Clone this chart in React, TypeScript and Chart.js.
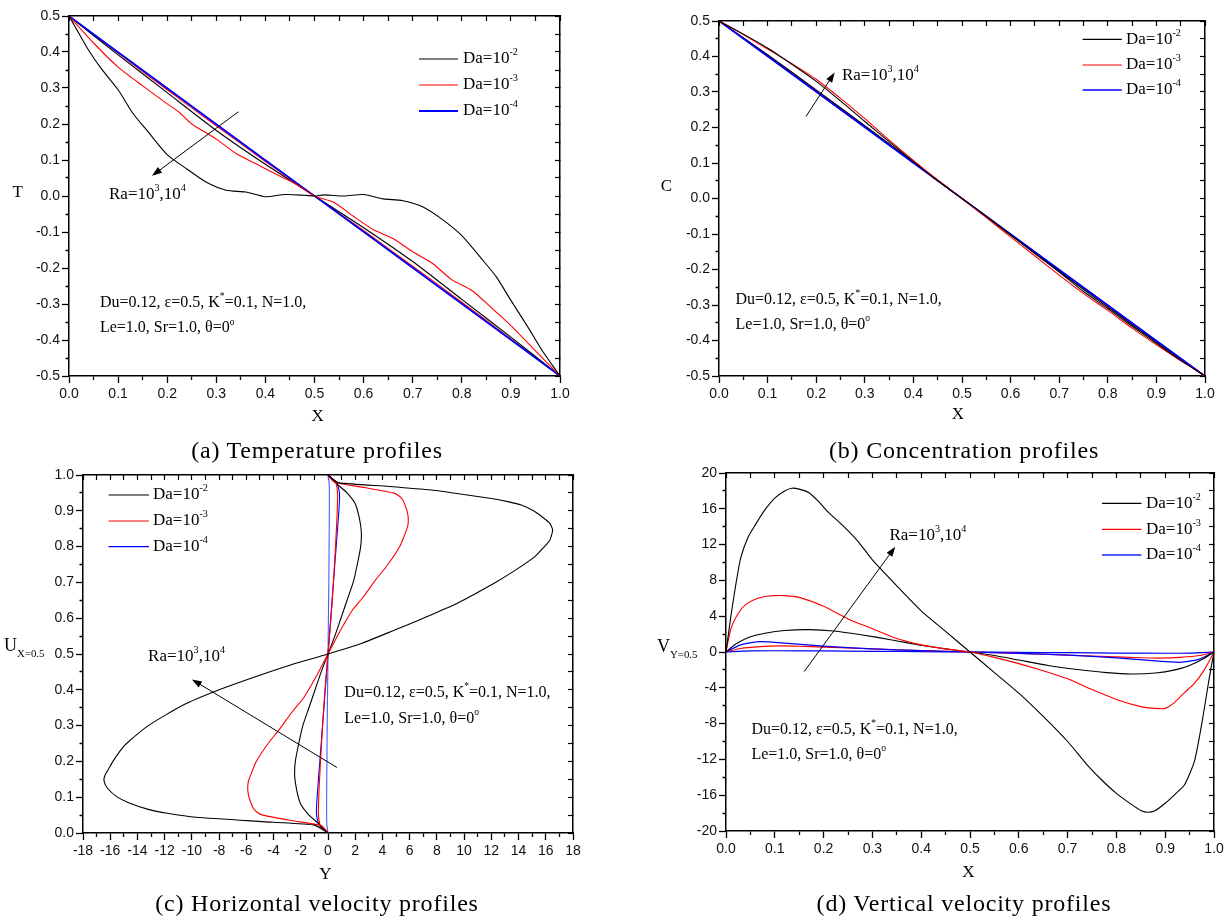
import React, { useEffect, useRef } from 'react';
import { Chart, registerables } from 'chart.js';

Chart.register(...registerables);

const SERIF = '"Liberation Serif", "Times New Roman", serif';
const SANS = '"Liberation Sans", Arial, sans-serif';

// ---------------- (a) Temperature profiles: T vs X ----------------
const A_X_D2_R4 = [0, 0.02, 0.04, 0.065, 0.1, 0.13, 0.16, 0.2, 0.24, 0.28, 0.32, 0.36, 0.4, 0.44, 0.48, 0.5, 0.52, 0.56, 0.6, 0.64, 0.68, 0.72, 0.76, 0.8, 0.84, 0.87, 0.9, 0.935, 0.965, 1.0];
const A_T_D2_R4 = [0.5, 0.452, 0.405, 0.355, 0.295, 0.23, 0.18, 0.115, 0.075, 0.038, 0.016, 0.011, -0.002, 0.004, 0.002, 0, 0.003, 0.0, 0.004, -0.008, -0.013, -0.03, -0.065, -0.11, -0.174, -0.224, -0.29, -0.365, -0.432, -0.5];
const A_X_D3_R4 = [0, 0.05, 0.1, 0.15, 0.2, 0.225, 0.25, 0.3, 0.34, 0.38, 0.42, 0.46, 0.5, 0.54, 0.58, 0.62, 0.66, 0.7, 0.74, 0.78, 0.82, 0.86, 0.9, 0.95, 1.0];
const A_T_D3_R4 = [0.5, 0.425, 0.358, 0.306, 0.256, 0.232, 0.2, 0.158, 0.118, 0.09, 0.062, 0.035, 0, -0.018, -0.057, -0.094, -0.118, -0.155, -0.187, -0.233, -0.262, -0.31, -0.36, -0.43, -0.5];
const A_X_LIN = [0, 0.1, 0.2, 0.3, 0.4, 0.5, 0.6, 0.7, 0.8, 0.9, 1.0];
const A_T_D2_R3 = [0.5, 0.392, 0.287, 0.182, 0.088, 0, -0.088, -0.182, -0.287, -0.392, -0.5];
const A_T_D3_R3 = [0.5, 0.397, 0.295, 0.195, 0.096, 0, -0.096, -0.195, -0.295, -0.397, -0.5];
const A_T_D4_R4 = [0.5, 0.399, 0.299, 0.199, 0.099, 0, -0.099, -0.199, -0.299, -0.399, -0.5];
const A_T_D4_R3 = [0.5, 0.4, 0.3, 0.2, 0.1, 0, -0.1, -0.2, -0.3, -0.4, -0.5];

// ---------------- (b) Concentration profiles: C vs X ----------------
const B_X = [0, 0.05, 0.1, 0.15, 0.2, 0.25, 0.3, 0.35, 0.4, 0.45, 0.5, 0.55, 0.6, 0.65, 0.7, 0.75, 0.8, 0.85, 0.9, 0.95, 1.0];
const B_C_D2_R4 = [0.5, 0.463, 0.424, 0.378, 0.33, 0.275, 0.217, 0.16, 0.104, 0.05, 0, -0.05, -0.102, -0.155, -0.207, -0.262, -0.31, -0.36, -0.408, -0.456, -0.5];
const B_C_D3_R4 = [0.5, 0.462, 0.421, 0.38, 0.336, 0.282, 0.225, 0.165, 0.107, 0.052, 0, -0.054, -0.108, -0.162, -0.216, -0.268, -0.315, -0.365, -0.412, -0.457, -0.5];
const B_X_LIN = [0, 0.1, 0.2, 0.3, 0.4, 0.5, 0.6, 0.7, 0.8, 0.9, 1.0];
const B_C_D2_R3 = [0.5, 0.405, 0.306, 0.205, 0.103, 0, -0.103, -0.205, -0.306, -0.405, -0.5];
const B_C_D3_R3 = [0.5, 0.403, 0.304, 0.203, 0.102, 0, -0.102, -0.203, -0.304, -0.403, -0.5];
const B_C_D4_R4 = [0.5, 0.401, 0.301, 0.201, 0.1, 0, -0.1, -0.201, -0.301, -0.401, -0.5];
const B_C_D4_R3 = [0.5, 0.4, 0.3, 0.2, 0.1, 0, -0.1, -0.2, -0.3, -0.4, -0.5];

// ---------------- (c) Horizontal velocity profiles: position vs U ----------------
const C_P_D2_R4 = [0, 0.01, 0.022, 0.03, 0.044, 0.055, 0.066, 0.084, 0.101, 0.125, 0.145, 0.16, 0.18, 0.2, 0.228, 0.25, 0.3, 0.358, 0.4, 0.433, 0.47, 0.5, 0.53, 0.567, 0.6, 0.642, 0.7, 0.735, 0.772, 0.8, 0.818, 0.846, 0.865, 0.884, 0.9, 0.916, 0.925, 0.935, 0.945, 0.958, 0.968, 0.978, 0.99, 1.0];
const C_U_D2_R4 = [0, -0.4, -1.0, -4.0, -9.7, -11.8, -13.2, -14.6, -15.5, -16.2, -16.45, -16.4, -16.1, -15.8, -15.3, -14.8, -13.2, -10.6, -8.0, -5.6, -2.7, 0, 2.5, 4.9, 7.0, 9.5, 12.3, 13.8, 15.2, 15.9, 16.3, 16.5, 16.3, 15.7, 15.1, 14.2, 13.3, 11.9, 10.1, 7.6, 4.5, 0.8, 0.3, 0];
const C_P_D2_R3 = [0, 0.01, 0.03, 0.05, 0.08, 0.12, 0.16, 0.2, 0.25, 0.3, 0.35, 0.4, 0.45, 0.5, 0.55, 0.6, 0.65, 0.7, 0.75, 0.8, 0.84, 0.88, 0.92, 0.95, 0.97, 0.99, 1];
const C_U_D2_R3 = [0, -0.3, -0.8, -1.4, -2.0, -2.3, -2.45, -2.4, -2.15, -1.85, -1.4, -0.95, -0.5, 0, 0.5, 0.95, 1.4, 1.85, 2.15, 2.4, 2.45, 2.3, 2.0, 1.4, 0.8, 0.3, 0];
const C_P_D3_R4 = [0, 0.01, 0.021, 0.035, 0.05, 0.058, 0.07, 0.088, 0.107, 0.126, 0.144, 0.17, 0.2, 0.25, 0.293, 0.34, 0.377, 0.415, 0.452, 0.5, 0.548, 0.585, 0.623, 0.66, 0.707, 0.75, 0.8, 0.83, 0.856, 0.874, 0.893, 0.912, 0.93, 0.942, 0.95, 0.965, 0.979, 0.99, 1];
const C_U_D3_R4 = [0, -0.2, -0.5, -2.7, -4.8, -5.2, -5.5, -5.7, -5.85, -5.9, -5.85, -5.6, -5.27, -4.4, -3.5, -2.6, -1.8, -1.2, -0.66, 0, 0.66, 1.2, 1.8, 2.6, 3.5, 4.4, 5.27, 5.6, 5.85, 5.9, 5.85, 5.7, 5.5, 5.2, 4.8, 2.7, 0.5, 0.2, 0];
const C_P_D3_R3 = [0, 0.02, 0.05, 0.1, 0.15, 0.2, 0.3, 0.4, 0.5, 0.6, 0.7, 0.8, 0.85, 0.9, 0.95, 0.98, 1];
const C_U_D3_R3 = [0, -0.55, -0.7, -0.68, -0.62, -0.55, -0.4, -0.22, 0, 0.22, 0.4, 0.55, 0.62, 0.68, 0.7, 0.55, 0];
const C_P_D4 = [0, 0.02, 0.04, 0.06, 0.1, 0.2, 0.3, 0.4, 0.5, 0.6, 0.7, 0.8, 0.9, 0.94, 0.96, 0.98, 1];
const C_U_D4_R4 = [0, -0.6, -0.8, -0.85, -0.8, -0.6, -0.4, -0.2, 0, 0.2, 0.4, 0.6, 0.8, 0.85, 0.8, 0.6, 0];
const C_U_D4_R3 = [0, -0.08, -0.1, -0.1, -0.1, -0.08, -0.06, -0.03, 0, 0.03, 0.06, 0.08, 0.1, 0.1, 0.1, 0.08, 0];

// ---------------- (d) Vertical velocity profiles: V vs X ----------------
const D_X_D2_R4 = [0, 0.01, 0.02, 0.03, 0.045, 0.06, 0.08, 0.1, 0.12, 0.135, 0.15, 0.17, 0.19, 0.21, 0.24, 0.27, 0.3, 0.35, 0.4, 0.45, 0.5, 0.55, 0.6, 0.65, 0.7, 0.74, 0.77, 0.8, 0.83, 0.85, 0.865, 0.88, 0.9, 0.92, 0.94, 0.96, 0.975, 0.99, 1.0];
const D_V_D2_R4 = [0, 4.0, 7.5, 10.5, 12.8, 14.2, 15.9, 17.2, 18.0, 18.3, 18.2, 17.8, 16.8, 15.6, 14.1, 12.4, 10.3, 7.4, 4.6, 2.3, 0, -2.3, -4.6, -7.2, -10.0, -12.6, -14.3, -15.8, -17.0, -17.7, -17.9, -17.7, -16.9, -15.9, -14.8, -12.2, -8.0, -3.0, 0];
const D_X_D3_R4 = [0, 0.01, 0.025, 0.04, 0.06, 0.08, 0.1, 0.12, 0.15, 0.2, 0.25, 0.3, 0.35, 0.4, 0.45, 0.5, 0.55, 0.6, 0.65, 0.7, 0.75, 0.8, 0.85, 0.88, 0.9, 0.92, 0.94, 0.96, 0.98, 1.0];
const D_V_D3_R4 = [0, 2.6, 4.3, 5.3, 5.9, 6.2, 6.3, 6.3, 6.1, 5.1, 3.7, 2.6, 1.5, 0.8, 0.35, 0, -0.6, -1.3, -2.1, -3.0, -4.2, -5.3, -6.1, -6.3, -6.3, -5.6, -4.5, -3.5, -2.0, 0];
const D_X_D2_R3 = [0, 0.02, 0.05, 0.08, 0.12, 0.17, 0.22, 0.28, 0.34, 0.4, 0.45, 0.5, 0.55, 0.6, 0.66, 0.72, 0.78, 0.83, 0.88, 0.92, 0.95, 0.98, 1.0];
const D_V_D2_R3 = [0, 0.9, 1.7, 2.1, 2.4, 2.5, 2.35, 1.9, 1.35, 0.75, 0.35, 0, -0.4, -0.9, -1.5, -1.95, -2.3, -2.45, -2.35, -2.0, -1.5, -0.7, 0];
const D_X_D4_R4 = [0, 0.03, 0.07, 0.12, 0.2, 0.3, 0.4, 0.5, 0.6, 0.7, 0.8, 0.88, 0.93, 0.97, 1.0];
const D_V_D4_R4 = [0, 0.8, 1.15, 1.0, 0.65, 0.35, 0.15, 0, -0.15, -0.35, -0.65, -1.0, -1.15, -0.8, 0];
const D_X_D3_R3 = [0, 0.03, 0.07, 0.11, 0.15, 0.2, 0.3, 0.4, 0.5, 0.6, 0.7, 0.8, 0.85, 0.89, 0.93, 0.97, 1];
const D_V_D3_R3 = [0, 0.4, 0.6, 0.68, 0.65, 0.55, 0.35, 0.15, 0, -0.15, -0.35, -0.55, -0.65, -0.68, -0.6, -0.4, 0];
const D_X_D4_R3 = [0, 0.05, 0.1, 0.2, 0.3, 0.4, 0.5, 0.6, 0.7, 0.8, 0.9, 0.95, 1];
const D_V_D4_R3 = [0, 0.12, 0.14, 0.12, 0.08, 0.04, 0, -0.04, -0.08, -0.12, -0.14, -0.12, 0];

// ---------------- labels ----------------
const LEGEND_POWERS = ['-2', '-3', '-4'];
const CAPTIONS = ['(a) Temperature profiles', '(b) Concentration profiles', '(c) Horizontal velocity profiles', '(d) Vertical velocity profiles'];

const BLACK = '#000000';
const RED = '#ff0000';
const BLUE = '#0000ff';
const LIGHTBLUE = '#4a5cff';

type Seg = { t: string; sup?: boolean; sub?: boolean };
const daSegs = (p: string): Seg[] => [{ t: 'Da=10' }, { t: p, sup: true }];
const RA_SEGS: Seg[] = [{ t: 'Ra=10' }, { t: '3', sup: true }, { t: ',10' }, { t: '4', sup: true }];
const PARAM1: Seg[] = [{ t: 'Du=0.12, \u03b5=0.5, K' }, { t: '*', sup: true }, { t: '=0.1, N=1.0,' }];
const PARAM2: Seg[] = [{ t: 'Le=1.0, Sr=1.0, \u03b8=0' }, { t: 'o', sup: true }];

const pts = (xs: number[], ys: number[]) => xs.map((x, i) => ({ x, y: ys[i] }));

function drawRich(ctx: CanvasRenderingContext2D, x: number, y: number, segs: Seg[], size: number, align: string) {
  const small = size * 0.6;
  let w = 0;
  segs.forEach((s) => {
    ctx.font = `${s.sup || s.sub ? small : size}px ${SERIF}`;
    w += ctx.measureText(s.t).width;
  });
  let cx = align === 'center' ? x - w / 2 : x;
  ctx.textBaseline = 'middle';
  ctx.textAlign = 'left';
  ctx.fillStyle = '#000';
  segs.forEach((s) => {
    const sz = s.sup || s.sub ? small : size;
    ctx.font = `${sz}px ${SERIF}`;
    const dy = s.sup ? -size * 0.38 : s.sub ? size * 0.45 : 0;
    ctx.fillText(s.t, cx, y + dy);
    cx += ctx.measureText(s.t).width;
  });
}

function drawArrow(ctx: CanvasRenderingContext2D, x1: number, y1: number, x2: number, y2: number) {
  const ang = Math.atan2(y2 - y1, x2 - x1);
  const len = 10, hw = 3.5;
  ctx.strokeStyle = '#000';
  ctx.fillStyle = '#000';
  ctx.lineWidth = 1;
  ctx.beginPath();
  ctx.moveTo(x1, y1);
  ctx.lineTo(x2 - Math.cos(ang) * len * 0.8, y2 - Math.sin(ang) * len * 0.8);
  ctx.stroke();
  ctx.beginPath();
  ctx.moveTo(x2, y2);
  ctx.lineTo(x2 - Math.cos(ang) * len - Math.sin(ang) * hw, y2 - Math.sin(ang) * len + Math.cos(ang) * hw);
  ctx.lineTo(x2 - Math.cos(ang) * len + Math.sin(ang) * hw, y2 - Math.sin(ang) * len - Math.cos(ang) * hw);
  ctx.closePath();
  ctx.fill();
}

type PanelCfg = any;

const fmt1 = (v: number) => (Math.round(v * 1000) / 1000).toFixed(1);
const fmtInt = (v: number) => String(Math.round(v));

const PANELS: PanelCfg[] = [
  {
    box: { x: 0, y: 0, w: 614, h: 460 },
    area: { l: 69, t: 16, r: 560, b: 376 },
    x: { min: 0, max: 1, minor: 0.05, major: 0.1, fmt: fmt1 },
    y: { min: -0.5, max: 0.5, minor: 0.05, major: 0.1, fmt: fmt1 },
    datasets: [
      { data: pts(A_X_D2_R4, A_T_D2_R4), color: BLACK, width: 1.1, tension: 0.25 },
      { data: pts(A_X_D3_R4, A_T_D3_R4), color: RED, width: 1.1, tension: 0.2 },
      { data: pts(A_X_LIN, A_T_D4_R4), color: BLUE, width: 1.4, tension: 0 },
      { data: pts(A_X_LIN, A_T_D4_R3), color: BLUE, width: 1.4, tension: 0 },
      { data: pts(A_X_LIN, A_T_D2_R3), color: BLACK, width: 1.1, tension: 0.2 },
      { data: pts(A_X_LIN, A_T_D3_R3), color: RED, width: 1.1, tension: 0.2 },
    ],
    legend: { x1: 419, x2: 458, tx: 463, ys: [59, 85, 111], items: [{ color: BLACK, width: 1.2 }, { color: RED, width: 1.2 }, { color: BLUE, width: 2 }] },
    titles: [
      { x: 17.6, y: 193, segs: [{ t: 'T' }], align: 'center', size: 17 },
      { x: 317.6, y: 416.3, segs: [{ t: 'X' }], align: 'center', size: 17 },
    ],
    notes: [
      { x: 0.0815, y: 0.003, segs: RA_SEGS, size: 17 },
      { x: 0.063, y: -0.297, segs: PARAM1, size: 16 },
      { x: 0.063, y: -0.367, segs: PARAM2, size: 16 },
    ],
    arrows: [{ from: [0.345, 0.234], to: [0.169, 0.056] }],
  },
  {
    box: { x: 614, y: 0, w: 614, h: 460 },
    area: { l: 719, t: 21, r: 1205, b: 376 },
    x: { min: 0, max: 1, minor: 0.05, major: 0.1, fmt: fmt1 },
    y: { min: -0.5, max: 0.5, minor: 0.05, major: 0.1, fmt: fmt1 },
    datasets: [
      { data: pts(B_X, B_C_D2_R4), color: BLACK, width: 1.1, tension: 0.2 },
      { data: pts(B_X, B_C_D3_R4), color: RED, width: 1.1, tension: 0.2 },
      { data: pts(B_X_LIN, B_C_D4_R4), color: BLUE, width: 1.4, tension: 0 },
      { data: pts(B_X_LIN, B_C_D4_R3), color: BLUE, width: 1.4, tension: 0 },
      { data: pts(B_X_LIN, B_C_D2_R3), color: BLACK, width: 1.1, tension: 0.2 },
      { data: pts(B_X_LIN, B_C_D3_R3), color: RED, width: 1.1, tension: 0.2 },
    ],
    legend: { x1: 468.6, x2: 507.8, tx: 512, ys: [39.3, 65, 90], items: [{ color: BLACK, width: 1.2 }, { color: RED, width: 1.2 }, { color: BLUE, width: 1.4 }] },
    titles: [
      { x: 52.5, y: 187, segs: [{ t: 'C' }], align: 'center', size: 17 },
      { x: 344, y: 414.5, segs: [{ t: 'X' }], align: 'center', size: 17 },
    ],
    notes: [
      { x: 0.253, y: 0.345, segs: RA_SEGS, size: 17 },
      { x: 0.034, y: -0.286, segs: PARAM1, size: 16 },
      { x: 0.034, y: -0.356, segs: PARAM2, size: 16 },
    ],
    arrows: [{ from: [0.179, 0.231], to: [0.238, 0.355] }],
  },
  {
    box: { x: 0, y: 460, w: 614, h: 461 },
    area: { l: 83, t: 475, r: 573, b: 833 },
    x: { min: -18, max: 18, minor: 1, major: 2, fmt: fmtInt },
    y: { min: 0, max: 1, minor: 0.05, major: 0.1, fmt: fmt1 },
    datasets: [
      { data: pts(C_U_D2_R4, C_P_D2_R4), color: BLACK, width: 1.1, tension: 0.2 },
      { data: pts(C_U_D3_R4, C_P_D3_R4), color: RED, width: 1.1, tension: 0.2 },
      { data: pts(C_U_D2_R3, C_P_D2_R3), color: BLACK, width: 1.1, tension: 0.2 },
      { data: pts(C_U_D3_R3, C_P_D3_R3), color: RED, width: 1.1, tension: 0.2 },
      { data: pts(C_U_D4_R4, C_P_D4), color: BLUE, width: 1.1, tension: 0.2 },
      { data: pts(C_U_D4_R3, C_P_D4), color: LIGHTBLUE, width: 1.1, tension: 0.2 },
    ],
    legend: { x1: 108.6, x2: 149, tx: 153, ys: [35, 61, 86.7], items: [{ color: BLACK, width: 1.2 }, { color: RED, width: 1.2 }, { color: BLUE, width: 1.2 }] },
    titles: [
      { x: 4, y: 186, segs: [{ t: 'U' }, { t: 'X=0.5', sub: true }], align: 'left', size: 18 },
      { x: 325.5, y: 415, segs: [{ t: 'Y' }], align: 'center', size: 17 },
    ],
    notes: [
      { x: -13.22, y: 0.492, segs: RA_SEGS, size: 17 },
      { x: 1.2, y: 0.393, segs: PARAM1, size: 16 },
      { x: 1.2, y: 0.32, segs: PARAM2, size: 16 },
    ],
    arrows: [{ from: [0.66, 0.183], to: [-10.0, 0.429] }],
  },
  {
    box: { x: 614, y: 460, w: 614, h: 461 },
    area: { l: 726, t: 473, r: 1214, b: 831 },
    x: { min: 0, max: 1, minor: 0.05, major: 0.1, fmt: fmt1 },
    y: { min: -20, max: 20, minor: 2, major: 4, fmt: fmtInt },
    datasets: [
      { data: pts(D_X_D2_R4, D_V_D2_R4), color: BLACK, width: 1.1, tension: 0.2 },
      { data: pts(D_X_D3_R4, D_V_D3_R4), color: RED, width: 1.1, tension: 0.2 },
      { data: pts(D_X_D2_R3, D_V_D2_R3), color: BLACK, width: 1.1, tension: 0.2 },
      { data: pts(D_X_D4_R4, D_V_D4_R4), color: BLUE, width: 1.2, tension: 0.2 },
      { data: pts(D_X_D3_R3, D_V_D3_R3), color: RED, width: 1.1, tension: 0.2 },
      { data: pts(D_X_D4_R3, D_V_D4_R3), color: BLUE, width: 1.2, tension: 0.2 },
    ],
    legend: { x1: 488, x2: 527.5, tx: 532, ys: [43.3, 69.3, 95], items: [{ color: BLACK, width: 1.2 }, { color: RED, width: 1.2 }, { color: LIGHTBLUE, width: 2 }] },
    titles: [
      { x: 43, y: 187.5, segs: [{ t: 'V' }, { t: 'Y=0.5', sub: true }], align: 'left', size: 18 },
      { x: 354.5, y: 413, segs: [{ t: 'X' }], align: 'center', size: 17 },
    ],
    notes: [
      { x: 0.335, y: 12.96, segs: RA_SEGS, size: 17 },
      { x: 0.052, y: -8.64, segs: PARAM1, size: 16 },
      { x: 0.052, y: -11.5, segs: PARAM2, size: 16 },
    ],
    arrows: [{ from: [0.16, -2.2], to: [0.347, 11.77] }],
  },
];

const isMul = (v: number, step: number) => Math.abs(v / step - Math.round(v / step)) < 1e-6;

function buildConfig(cfg: PanelCfg): any {
  const { box, area } = cfg;
  const leftW = area.l - box.x;
  const topH = area.t - box.y;
  const rightW = box.x + box.w - area.r;
  const bottomH = box.y + box.h - area.b;
  const tickFont = { family: SANS, size: 14 };
  const border = { display: true, color: '#000', width: 1.5 };

  const textPlugin = {
    id: 'panelText',
    afterDraw(chart: any) {
      const ctx: CanvasRenderingContext2D = chart.ctx;
      const xs = chart.scales.x;
      const ys = chart.scales.y;
      ctx.save();
      const lg = cfg.legend;
      lg.items.forEach((it: any, i: number) => {
        ctx.strokeStyle = it.color;
        ctx.lineWidth = it.width;
        ctx.beginPath();
        ctx.moveTo(lg.x1, lg.ys[i]);
        ctx.lineTo(lg.x2, lg.ys[i]);
        ctx.stroke();
        drawRich(ctx, lg.tx, lg.ys[i], daSegs(LEGEND_POWERS[i]), 17, 'left');
      });
      cfg.arrows.forEach((a: any) => {
        drawArrow(ctx, xs.getPixelForValue(a.from[0]), ys.getPixelForValue(a.from[1]), xs.getPixelForValue(a.to[0]), ys.getPixelForValue(a.to[1]));
      });
      cfg.notes.forEach((n: any) => {
        drawRich(ctx, xs.getPixelForValue(n.x), ys.getPixelForValue(n.y), n.segs, n.size, 'left');
      });
      cfg.titles.forEach((t: any) => drawRich(ctx, t.x, t.y, t.segs, t.size, t.align));
      ctx.restore();
    },
  };

  return {
    type: 'scatter',
    data: {
      datasets: cfg.datasets.map((d: any) => ({
        data: d.data,
        borderColor: d.color,
        backgroundColor: d.color,
        borderWidth: d.width,
        showLine: true,
        pointRadius: 0,
        pointHoverRadius: 0,
        tension: d.tension,
        fill: false,
      })),
    },
    options: {
      responsive: false,
      animation: false,
      events: [],
      layout: { padding: 0 },
      plugins: { legend: { display: false }, tooltip: { enabled: false }, title: { display: false } },
      scales: {
        x: {
          type: 'linear', position: 'bottom', min: cfg.x.min, max: cfg.x.max,
          afterFit: (s: any) => { s.height = bottomH; },
          ticks: {
            stepSize: cfg.x.minor, autoSkip: false, maxRotation: 0, minRotation: 0, padding: 3, color: '#111', font: tickFont,
            callback: (v: number) => (isMul(v, cfg.x.major) ? cfg.x.fmt(v) : ''),
          },
          grid: {
            drawOnChartArea: false, drawTicks: true, tickLength: 7, tickWidth: 1.3, tickColor: '#000',
            tickBorderDash: (c: any) => (c.tick && isMul(c.tick.value, cfg.x.major) ? [] : [3.5, 100]),
          },
          border,
        },
        y: {
          type: 'linear', position: 'left', min: cfg.y.min, max: cfg.y.max,
          afterFit: (s: any) => { s.width = leftW; },
          ticks: {
            stepSize: cfg.y.minor, autoSkip: false, padding: 2, color: '#111', font: tickFont,
            callback: (v: number) => (isMul(v, cfg.y.major) ? cfg.y.fmt(v) : ''),
          },
          grid: {
            drawOnChartArea: false, drawTicks: true, tickLength: 7, tickWidth: 1.3, tickColor: '#000',
            tickBorderDash: (c: any) => (c.tick && isMul(c.tick.value, cfg.y.major) ? [] : [0, 3.5, 3.5, 100]),
          },
          border,
        },
        x2: {
          type: 'linear', position: 'top', min: cfg.x.min, max: cfg.x.max,
          afterFit: (s: any) => { s.height = topH; },
          ticks: { display: false, stepSize: cfg.x.minor, autoSkip: false },
          grid: { drawOnChartArea: false, drawTicks: true, tickLength: -5, tickWidth: 1.2, tickColor: '#000' },
          border,
        },
        y2: {
          type: 'linear', position: 'right', min: cfg.y.min, max: cfg.y.max,
          afterFit: (s: any) => { s.width = rightW; },
          ticks: { display: false, stepSize: cfg.y.minor, autoSkip: false },
          grid: { drawOnChartArea: false, drawTicks: true, tickLength: -5, tickWidth: 1.2, tickColor: '#000' },
          border,
        },
      },
    },
    plugins: [textPlugin],
  };
}

function Panel({ cfg }: { cfg: PanelCfg }) {
  const ref = useRef<HTMLCanvasElement | null>(null);
  useEffect(() => {
    const chart = new Chart(ref.current as HTMLCanvasElement, buildConfig(cfg));
    return () => chart.destroy();
  }, [cfg]);
  return (
    <canvas
      ref={ref}
      width={cfg.box.w}
      height={cfg.box.h}
      style={{ position: 'absolute', left: cfg.box.x, top: cfg.box.y, width: cfg.box.w, height: cfg.box.h }}
    />
  );
}

const CAPTION_POS = [
  { x: 317, y: 450 },
  { x: 964, y: 450 },
  { x: 317, y: 903 },
  { x: 964, y: 903 },
];

export default function App() {
  return (
    <div style={{ position: 'absolute', left: 0, top: 0, width: 1228, height: 921, background: '#fff', overflow: 'hidden' }}>
      {PANELS.map((p, i) => (
        <Panel key={i} cfg={p} />
      ))}
      {CAPTIONS.map((c, i) => (
        <div
          key={c}
          style={{
            position: 'absolute', left: CAPTION_POS[i].x - 250, width: 500, top: CAPTION_POS[i].y - 14,
            height: 28, lineHeight: '28px', textAlign: 'center', fontFamily: SERIF, fontSize: 24,
            letterSpacing: '0.8px', color: '#000', whiteSpace: 'nowrap',
          }}
        >
          {c}
        </div>
      ))}
    </div>
  );
}
